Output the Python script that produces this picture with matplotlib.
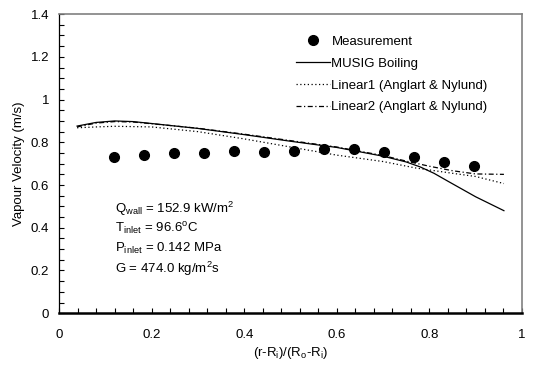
import numpy as np
import matplotlib.pyplot as plt
from matplotlib.ticker import MultipleLocator, FormatStrFormatter

plt.rcParams['font.family'] = ['Liberation Sans', 'DejaVu Sans']
plt.rcParams['mathtext.fontset'] = 'custom'
plt.rcParams['mathtext.rm'] = 'Liberation Sans'
plt.rcParams['mathtext.it'] = 'Liberation Sans'

# measured vapour velocity
x_med = [0.119, 0.184, 0.248, 0.313, 0.378, 0.443, 0.507, 0.572, 0.637, 0.702, 0.766, 0.831, 0.896]
v_med = [0.730, 0.739, 0.748, 0.748, 0.758, 0.755, 0.758, 0.771, 0.771, 0.753, 0.732, 0.710, 0.687]

# MUSIG boiling
x_musig = [0.039, 0.08, 0.12, 0.16, 0.2, 0.3, 0.4, 0.5, 0.6, 0.7, 0.75, 0.78, 0.81, 0.84, 0.9, 0.961]
v_musig = [0.876, 0.893, 0.900, 0.897, 0.888, 0.865, 0.836, 0.805, 0.776, 0.735, 0.708, 0.685, 0.655, 0.618, 0.545, 0.480]

# Linear1 (Anglart & Nylund)
x_lin1 = [0.039, 0.08, 0.12, 0.2, 0.3, 0.4, 0.5, 0.6, 0.7, 0.77, 0.85, 0.9, 0.961]
v_lin1 = [0.868, 0.872, 0.875, 0.872, 0.850, 0.816, 0.778, 0.740, 0.710, 0.680, 0.655, 0.640, 0.607]

# Linear2 (Anglart & Nylund)
x_lin2 = [0.039, 0.08, 0.12, 0.16, 0.2, 0.3, 0.4, 0.5, 0.6, 0.7, 0.75, 0.8, 0.85, 0.9, 0.961]
v_lin2 = [0.872, 0.890, 0.897, 0.895, 0.887, 0.866, 0.838, 0.808, 0.778, 0.738, 0.712, 0.688, 0.667, 0.652, 0.650]

fs = 9.5

fig = plt.figure(figsize=(5.44, 3.72), dpi=100)
ax = fig.add_axes([0.1085, 0.158, 0.851, 0.804])

ax.plot(x_med, v_med, 'o', color='black', markersize=7, label='Measurement')
ax.plot(x_musig, v_musig, '-', color='black', lw=0.9, label='MUSIG Boiling')
ax.plot(x_lin1, v_lin1, linestyle=(0, (1, 2)), color='black', lw=0.9,
        label='Linear1 (Anglart & Nylund)')
ax.plot(x_lin2, v_lin2, linestyle=(0, (4, 2, 1, 2)), color='black', lw=0.9,
        label='Linear2 (Anglart & Nylund)')

ax.set_xlim(0, 1)
ax.set_ylim(0, 1.4)
ax.xaxis.set_major_locator(MultipleLocator(0.2))
ax.xaxis.set_minor_locator(MultipleLocator(0.04))
ax.yaxis.set_major_locator(MultipleLocator(0.2))
ax.yaxis.set_minor_locator(MultipleLocator(0.05))
ax.xaxis.set_major_formatter(FormatStrFormatter('%g'))
ax.yaxis.set_major_formatter(FormatStrFormatter('%g'))
ax.tick_params(which='both', direction='in', labelsize=fs, top=False, right=False,
               length=3.5, width=0.8)
ax.tick_params(axis='x', pad=11)
ax.tick_params(axis='y', pad=7)

ax.spines['left'].set_linewidth(0.9)
ax.spines['bottom'].set_linewidth(1.8)
for s in ('top', 'right'):
    ax.spines[s].set_color('#808080')
    ax.spines[s].set_linewidth(1.2)

ax.set_xlabel(r'(r-R$_\mathregular{i}$)/(R$_\mathregular{o}$-R$_\mathregular{i}$)', fontsize=fs, labelpad=3)
ax.set_ylabel('Vapour Velocity (m/s)', fontsize=fs, labelpad=4)

ax.legend(loc='upper left', bbox_to_anchor=(0.5, 0.945), frameon=False, fontsize=fs,
          handlelength=2.6, handletextpad=0.1, labelspacing=0.72, borderaxespad=0)

info = [r'Q$_\mathregular{wall}$ = 152.9 kW/m$^\mathregular{2}$',
        r'T$_\mathregular{inlet}$ = 96.6$^\mathregular{o}$C',
        r'P$_\mathregular{inlet}$ = 0.142 MPa',
        r'G = 474.0 kg/m$^\mathregular{2}$s']
for i, s in enumerate(info):
    ax.text(0.12, 0.35 - i * 0.067, s, transform=ax.transAxes, fontsize=fs, va='center')

fig.savefig('out.png', dpi=100)
